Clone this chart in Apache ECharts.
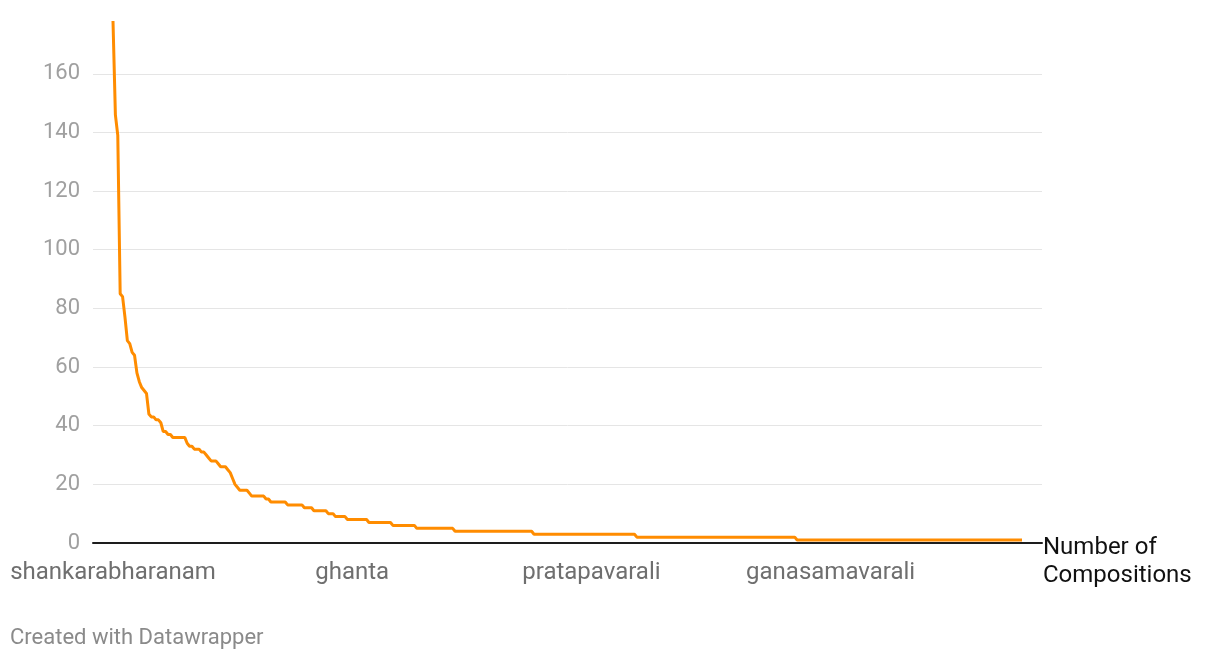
<!DOCTYPE html>
<html>
<head>
<meta charset="utf-8">
<script src="https://cdn.jsdelivr.net/npm/echarts@6/dist/echarts.min.js"></script>
<style>
  html, body { margin: 0; padding: 0; background: #fff; }
  #chart { width: 1220px; height: 660px; }
</style>
</head>
<body>
<div id="chart"></div>
<script>
// compositions per raga, sorted high to low
const compositions = [
  178, 146, 139, 85, 84, 77, 69, 68, 65, 64,
  58, 55, 53, 52, 51, 44, 43, 43, 42, 42,
  41, 38, 38, 37, 37, 36, 36, 36, 36, 36,
  36, 34, 33, 33, 32, 32, 32, 31, 31, 30,
  29, 28, 28, 28, 27, 26, 26, 26, 25, 24,
  22, 20, 19, 18, 18, 18, 18, 17, 16, 16,
  16, 16, 16, 16, 15, 15, 14, 14, 14, 14,
  14, 14, 14, 13, 13, 13, 13, 13, 13, 13,
  12, 12, 12, 12, 11, 11, 11, 11, 11, 11,
  10, 10, 10, 9, 9, 9, 9, 9, 8, 8,
  8, 8, 8, 8, 8, 8, 8, 7, 7, 7,
  7, 7, 7, 7, 7, 7, 7, 6, 6, 6,
  6, 6, 6, 6, 6, 6, 6, 5, 5, 5,
  5, 5, 5, 5, 5, 5, 5, 5, 5, 5,
  5, 5, 5, 4, 4, 4, 4, 4, 4, 4,
  4, 4, 4, 4, 4, 4, 4, 4, 4, 4,
  4, 4, 4, 4, 4, 4, 4, 4, 4, 4,
  4, 4, 4, 4, 4, 4, 3, 3, 3, 3,
  3, 3, 3, 3, 3, 3, 3, 3, 3, 3,
  3, 3, 3, 3, 3, 3, 3, 3, 3, 3,
  3, 3, 3, 3, 3, 3, 3, 3, 3, 3,
  3, 3, 3, 3, 3, 3, 3, 3, 3, 2,
  2, 2, 2, 2, 2, 2, 2, 2, 2, 2,
  2, 2, 2, 2, 2, 2, 2, 2, 2, 2,
  2, 2, 2, 2, 2, 2, 2, 2, 2, 2,
  2, 2, 2, 2, 2, 2, 2, 2, 2, 2,
  2, 2, 2, 2, 2, 2, 2, 2, 2, 2,
  2, 2, 2, 2, 2, 2, 2, 2, 2, 2,
  2, 2, 2, 2, 2, 2, 1, 1, 1, 1,
  1, 1, 1, 1, 1, 1, 1, 1, 1, 1,
  1, 1, 1, 1, 1, 1, 1, 1, 1, 1,
  1, 1, 1, 1, 1, 1, 1, 1, 1, 1,
  1, 1, 1, 1, 1, 1, 1, 1, 1, 1,
  1, 1, 1, 1, 1, 1, 1, 1, 1, 1,
  1, 1, 1, 1, 1, 1, 1, 1, 1, 1,
  1, 1, 1, 1, 1, 1, 1, 1, 1, 1,
  1, 1, 1, 1, 1, 1, 1, 1, 1, 1,
  1, 1, 1, 1, 1, 1, 1, 1, 1, 1,
  1
]

// only these ragas get a label on the x axis
const labelIndex = [0, 100, 200, 300]
const labelNames = ['shankarabharanam', 'ghanta', 'pratapavarali', 'ganasamavarali']

const FONT = 'Roboto'
// padding left/right of the line inside the axis (in category steps)
const PAD = 8.36

const chart = echarts.init(document.getElementById('chart'), null, { renderer: 'canvas' })

chart.setOption({
  animation: false,
  grid: { left: 93, right: 178, top: 21, bottom: 117, containLabel: false },
  xAxis: {
    type: 'value',
    min: -PAD,
    max: compositions.length - 1 + PAD,
    axisLine: { onZero: true, lineStyle: { color: '#1d1d1d', width: 2 } },
    axisTick: { show: false },
    splitLine: { show: false },
    axisLabel: {
      customValues: labelIndex,
      formatter: v => labelNames[labelIndex.indexOf(v)] || '',
      color: '#6f6f6f', fontFamily: FONT, fontSize: 24, margin: 18
    }
  },
  yAxis: {
    type: 'value',
    min: 0,
    max: 178,
    interval: 20,
    axisLine: { show: false },
    axisTick: { show: false },
    axisLabel: {
      color: '#a0a0a0', fontFamily: FONT, fontSize: 22, margin: 13,
      showMaxLabel: false
    },
    splitLine: { showMaxLine: false, lineStyle: { color: '#e5e5e5', width: 1 } }
  },
  graphic: [
    {
      // axis title, sits at the right end of the x axis
      type: 'text', left: 1043, top: 534,
      style: { text: 'Number of\nCompositions', fill: '#111', font: '24px Roboto', lineHeight: 28 }
    },
    {
      type: 'text', left: 10, top: 627,
      style: { text: 'Created with Datawrapper', fill: '#8a8a8a', font: '22px Roboto' }
    }
  ],
  series: [{
    type: 'line',
    data: compositions.map((v, i) => [i, v]),
    showSymbol: false,
    clip: false,
    lineStyle: { color: '#ff8c00', width: 3 },
    z: 3
  }]
})
</script>
</body>
</html>
